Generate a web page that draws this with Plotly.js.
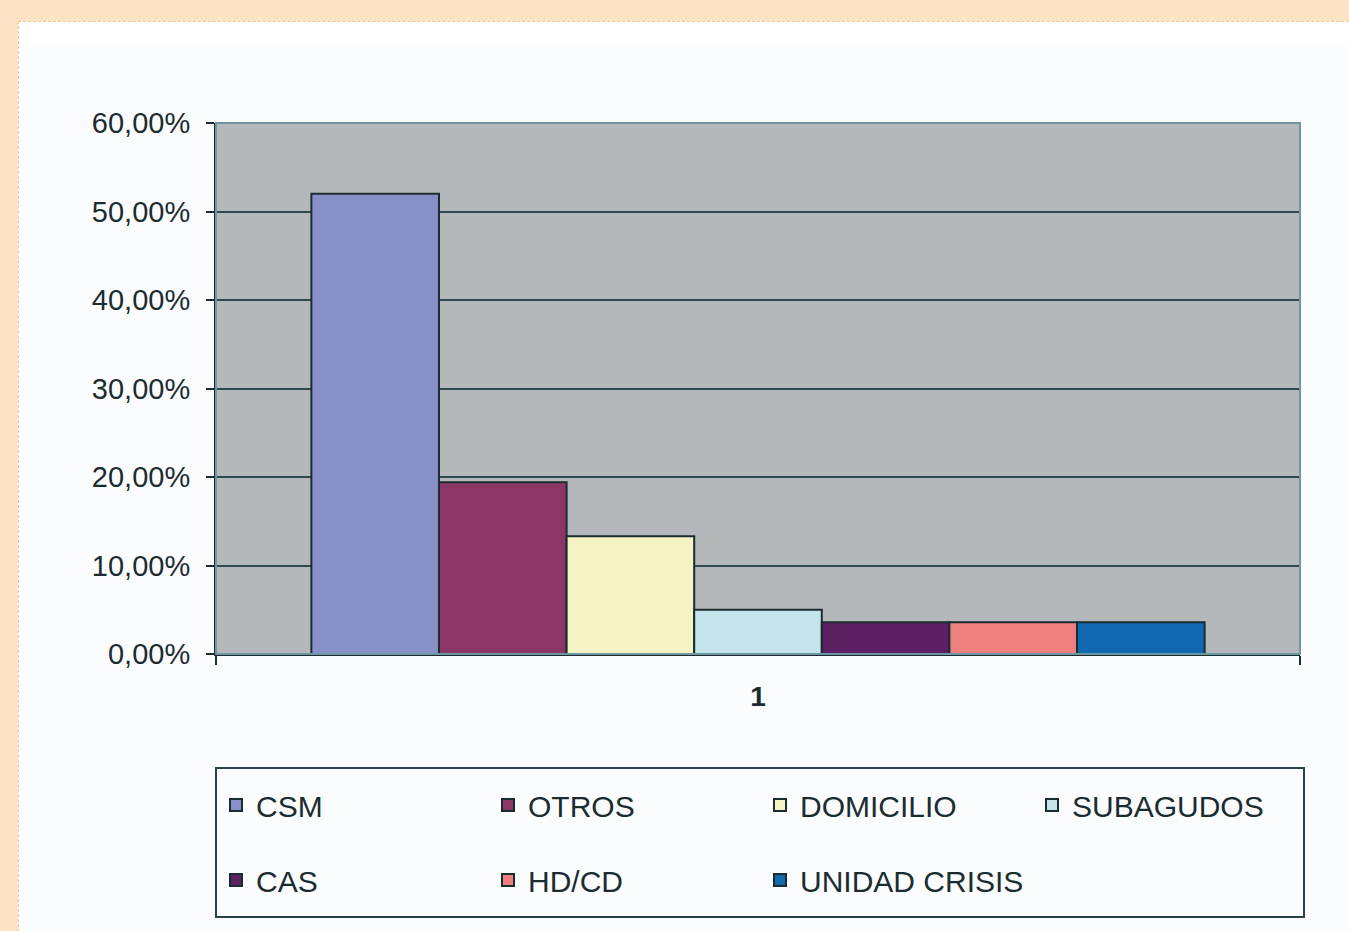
<!DOCTYPE html>
<html>
<head>
<meta charset="utf-8">
<script src="https://cdn.plot.ly/plotly-3.0.1.min.js"></script>
<style>
  html, body { margin: 0; padding: 0; width: 1349px; height: 931px; overflow: hidden; background: #fde3c6; }
  #panel { position: absolute; left: 18px; top: 21px; width: 1400px; height: 1000px; background: #ffffff;
           border-left: 1px dashed #f6c68c; border-top: 1px dashed #f6c68c; }
  #inner { position: absolute; left: 19px; top: 45px; width: 1400px; height: 1000px; background: #fbfcfe; }
  #chart { position: absolute; left: 0; top: 0; width: 1349px; height: 931px; }
</style>
</head>
<body>
<div id="panel"></div>
<div id="inner"></div>
<div id="chart"></div>
<script>
const categories = ["1"];
const seriesNames = ["CSM", "OTROS", "DOMICILIO", "SUBAGUDOS", "CAS", "HD/CD", "UNIDAD CRISIS"];
const seriesValues = [0.52, 0.194, 0.133, 0.05, 0.036, 0.036, 0.036];
const seriesColors = ["#8890c8", "#8b3664", "#f5f3c3", "#c3e4ea", "#5c1f63", "#f08080", "#1068b1"];
const tickValues = [0, 0.1, 0.2, 0.3, 0.4, 0.5, 0.6];
const tickLabels = ["0,00%", "10,00%", "20,00%", "30,00%", "40,00%", "50,00%", "60,00%"];

const font = "Liberation Sans, Arial, sans-serif";
const dark = "#1b2c31";

const traces = seriesNames.map((name, i) => ({
  type: "bar",
  name: name,
  x: categories,
  y: [seriesValues[i]],
  marker: { color: seriesColors[i], line: { color: dark, width: 2 } },
  legend: i < 4 ? "legend" : "legend2",
  hoverinfo: "name+y"
}));

const legendCommon = {
  orientation: "h",
  xanchor: "left",
  yanchor: "middle",
  x: 0,
  entrywidth: 227,
  entrywidthmode: "pixels",
  bgcolor: "rgba(0,0,0,0)",
  borderwidth: 0,
  font: { family: font, size: 30, color: dark },
  traceorder: "normal"
};

const layout = {
  width: 1349,
  height: 931,
  margin: { l: 216, r: 49, t: 123, b: 277, pad: 0 },
  paper_bgcolor: "rgba(0,0,0,0)",
  plot_bgcolor: "#b5b8ba",
  barmode: "group",
  bargap: 0.176,
  bargroupgap: 0,
  showlegend: true,
  xaxis: {
    type: "category",
    tickson: "boundaries",
    ticks: "outside",
    ticklen: 9,
    tickwidth: 2,
    tickcolor: dark,
    showline: true,
    linecolor: dark,
    linewidth: 2,
    showgrid: false,
    ticklabelstandoff: 16,
    tickfont: { family: font, size: 28, color: dark, weight: "bold" },
    fixedrange: true
  },
  yaxis: {
    range: [0, 0.6],
    tickvals: tickValues,
    ticktext: tickLabels,
    ticks: "outside",
    ticklen: 8,
    tickwidth: 2,
    tickcolor: dark,
    showline: true,
    linecolor: dark,
    linewidth: 2,
    showgrid: true,
    gridcolor: "#2e4a50",
    gridwidth: 2,
    zeroline: false,
    tickfont: { family: font, size: 29, color: dark },
    ticklabelstandoff: 10,
    fixedrange: true
  },
  legend: Object.assign({}, legendCommon, { y: (654 - 805) / 531 }),
  legend2: Object.assign({}, legendCommon, { y: (654 - 880) / 531 }),
  shapes: [
    { type: "rect", xref: "paper", yref: "paper", x0: 0, x1: 1, y0: 0, y1: 1,
      line: { color: "#6f97a3", width: 2 }, layer: "above" },
    { type: "rect", xref: "paper", yref: "paper", x0: 0, x1: (1304 - 216) / 1084,
      y0: (654 - 768) / 531, y1: (654 - 917) / 531,
      line: { color: "#2a4147", width: 2 }, fillcolor: "rgba(0,0,0,0)" }
  ]
};

Plotly.newPlot("chart", traces, layout, { displayModeBar: false, staticPlot: true });
</script>
</body>
</html>
